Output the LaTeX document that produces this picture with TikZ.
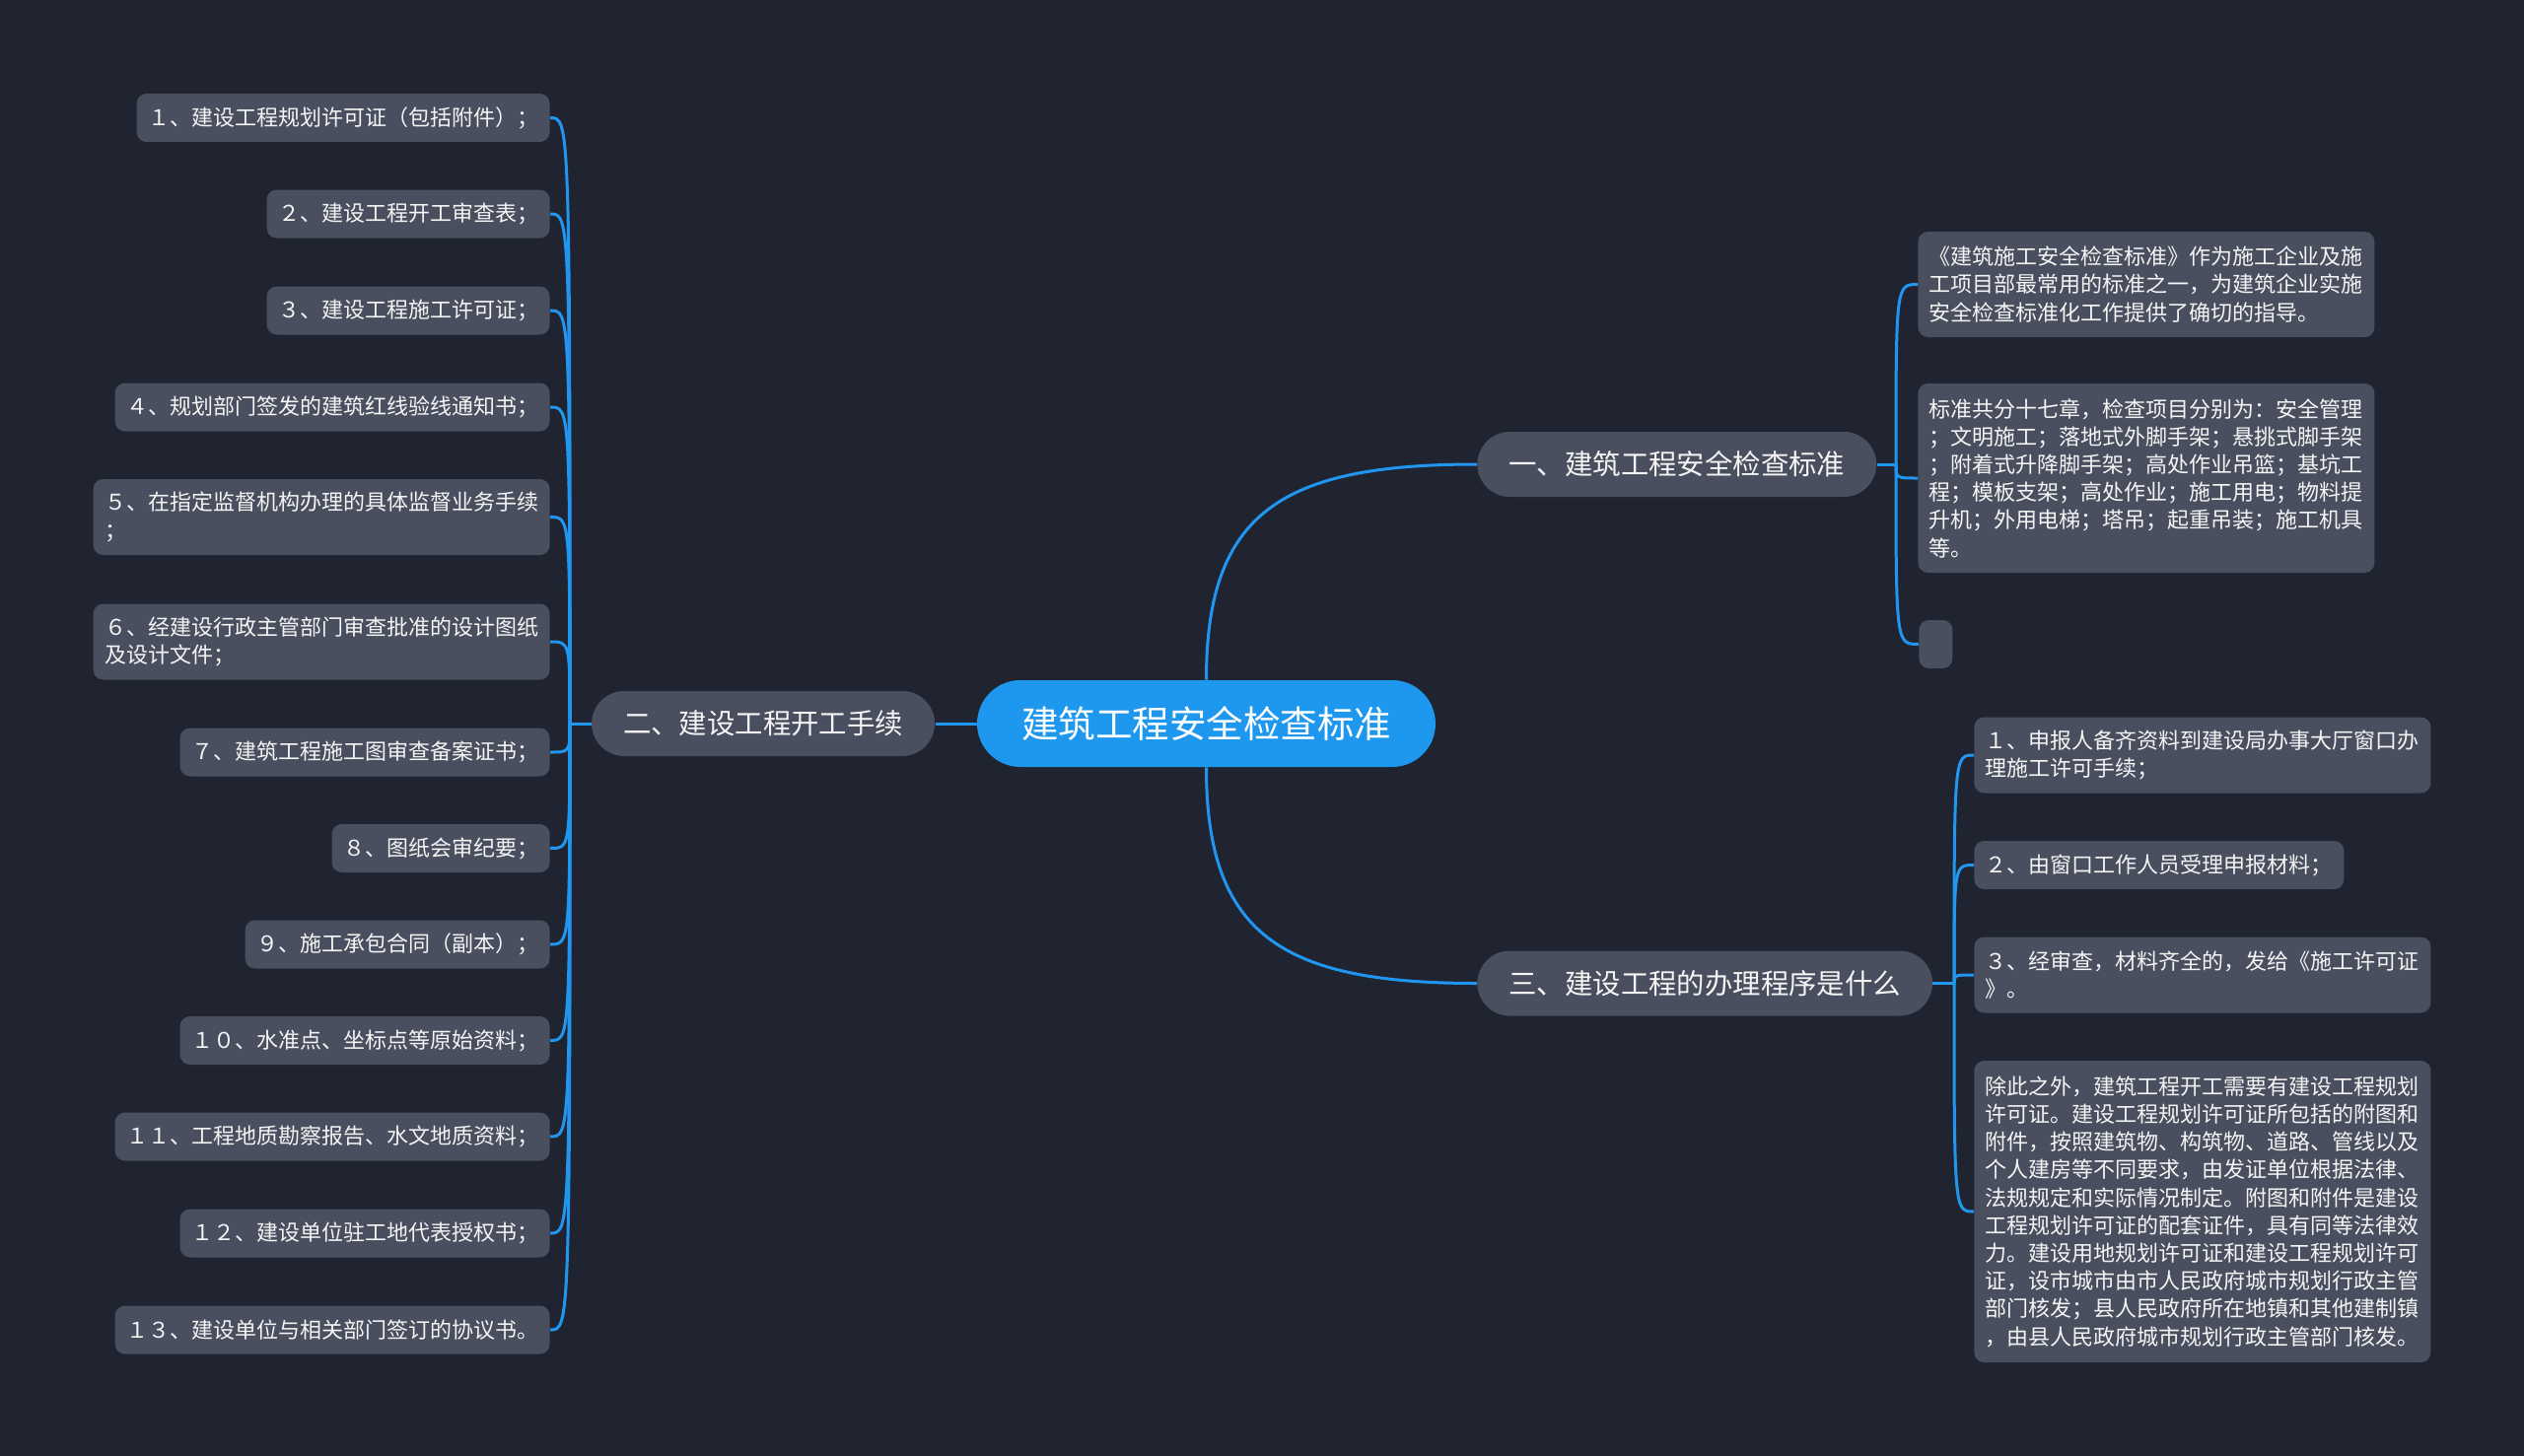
\documentclass[tikz,border=0pt]{standalone}
\usepackage{fontspec}
\setmainfont{Noto Sans CJK SC}
\definecolor{bgc}{RGB}{32,36,48}
\definecolor{boxgray}{RGB}{73,79,95}
\definecolor{rootblue}{RGB}{30,152,238}
\definecolor{linkblue}{RGB}{32,150,240}
\definecolor{txt}{RGB}{245,245,245}
\begin{document}
\begin{tikzpicture}[x=0.5pt,y=-0.5pt,
  conn/.style={draw=linkblue, line width=1.5pt},
  rootbox/.style={fill=rootblue, text=white, rounded corners=22pt, minimum width=232.5pt, minimum height=44pt, inner sep=0pt, font=\fontsize{18.75pt}{22pt}\selectfont},
  mainbox/.style={fill=boxgray, text=txt, rounded corners=16.5pt, minimum height=33pt, inner xsep=16pt, inner ysep=0pt, font=\fontsize{14.2pt}{17pt}\selectfont},
  leaf/.style={fill=boxgray, text=txt, rounded corners=5pt, inner xsep=5.75pt, inner ysep=1pt, align=left, font=\fontsize{11pt}{14.1pt}\selectfont},
  leafone/.style={leaf, minimum height=24.5pt},
  leaftwo/.style={leaf, minimum height=38.5pt},
]
\useasboundingbox (0,0) rectangle (2560,1477);
\fill[bgc] (0,0) rectangle (2560,1477);

% root and main branches
\node[rootbox] (root) at (1223.5,734) {建筑工程安全检查标准};
\node[mainbox, anchor=west] (b1) at (1498,471) {一、建筑工程安全检查标准};
\node[mainbox, anchor=east] (b2) at (948.5,734) {二、建设工程开工手续};
\node[mainbox, anchor=west] (b3) at (1498,997.5) {三、建设工程的办理程序是什么};

% left leaves
\node[leafone, anchor=east] (l1) at (558,119.5) {１、建设工程规划许可证（包括附件）；};
\node[leafone, anchor=east] (l2) at (558,217) {２、建设工程开工审查表；};
\node[leafone, anchor=east] (l3) at (558,315) {３、建设工程施工许可证；};
\node[leafone, anchor=east] (l4) at (558,413) {４、规划部门签发的建筑红线验线通知书；};
\node[leaftwo, anchor=east] (l5) at (558,524.5) {５、在指定监督机构办理的具体监督业务手续\\；};
\node[leaftwo, anchor=east] (l6) at (558,651) {６、经建设行政主管部门审查批准的设计图纸\\及设计文件；};
\node[leafone, anchor=east] (l7) at (558,763) {７、建筑工程施工图审查备案证书；};
\node[leafone, anchor=east] (l8) at (558,860.5) {８、图纸会审纪要；};
\node[leafone, anchor=east] (l9) at (558,958) {９、施工承包合同（副本）；};
\node[leafone, anchor=east] (l10) at (558,1055.5) {１０、水准点、坐标点等原始资料；};
\node[leafone, anchor=east] (l11) at (558,1153) {１１、工程地质勘察报告、水文地质资料；};
\node[leafone, anchor=east] (l12) at (558,1251) {１２、建设单位驻工地代表授权书；};
\node[leafone, anchor=east] (l13) at (558,1349) {１３、建设单位与相关部门签订的协议书。};

% branch 1 leaves
\node[leaf, anchor=west, minimum height=53.5pt] (r1) at (1945,288.5) {《建筑施工安全检查标准》作为施工企业及施\\工项目部最常用的标准之一，为建筑企业实施\\安全检查标准化工作提供了确切的指导。};
\node[leaf, anchor=west, minimum height=96pt] (r2) at (1945,485) {标准共分十七章，检查项目分别为：安全管理\\；文明施工；落地式外脚手架；悬挑式脚手架\\；附着式升降脚手架；高处作业吊篮；基坑工\\程；模板支架；高处作业；施工用电；物料提\\升机；外用电梯；塔吊；起重吊装；施工机具\\等。};
\node[leaf, anchor=west, minimum width=17pt, minimum height=24.5pt, inner sep=0pt] (r3) at (1946,653.5) {};

% branch 3 leaves
\node[leaftwo, anchor=west] (s1) at (2002,766) {１、申报人备齐资料到建设局办事大厅窗口办\\理施工许可手续；};
\node[leafone, anchor=west] (s2) at (2002,877.5) {２、由窗口工作人员受理申报材料；};
\node[leaftwo, anchor=west] (s3) at (2002,989) {３、经审查，材料齐全的，发给《施工许可证\\》。};
\node[leaf, anchor=west, minimum height=153pt] (s4) at (2002,1229) {除此之外，建筑工程开工需要有建设工程规划\\许可证。建设工程规划许可证所包括的附图和\\附件，按照建筑物、构筑物、道路、管线以及\\个人建房等不同要求，由发证单位根据法律、\\法规规定和实际情况制定。附图和附件是建设\\工程规划许可证的配套证件，具有同等法律效\\力。建设用地规划许可证和建设工程规划许可\\证，设市城市由市人民政府城市规划行政主管\\部门核发；县人民政府所在地镇和其他建制镇\\，由县人民政府城市规划行政主管部门核发。};

% junctions
\coordinate (jl) at (578,734);
\coordinate (j1) at (1923,471);
\coordinate (j3) at (1982,997.5);

% connectors
\draw[conn] (root.north) .. controls +(0,-170) and +(-198,0) .. (b1.west);
\draw[conn] (root.south) .. controls +(0,170) and +(-198,0) .. (b3.west);
\draw[conn] (root.west) -- (b2.east);

\draw[conn] (b2.west) -- (jl);
\foreach \k in {l1,l2,l3,l4,l5,l6,l7,l8,l9,l10,l11,l12,l13}
  \draw[conn] (jl) .. controls (jl |- \k.east) .. (\k.east);

\draw[conn] (b1.east) -- (j1);
\foreach \k in {r1,r2,r3}
  \draw[conn] (j1) .. controls (j1 |- \k.west) .. (\k.west);

\draw[conn] (b3.east) -- (j3);
\foreach \k in {s1,s2,s3,s4}
  \draw[conn] (j3) .. controls (j3 |- \k.west) .. (\k.west);
\end{tikzpicture}
\end{document}
